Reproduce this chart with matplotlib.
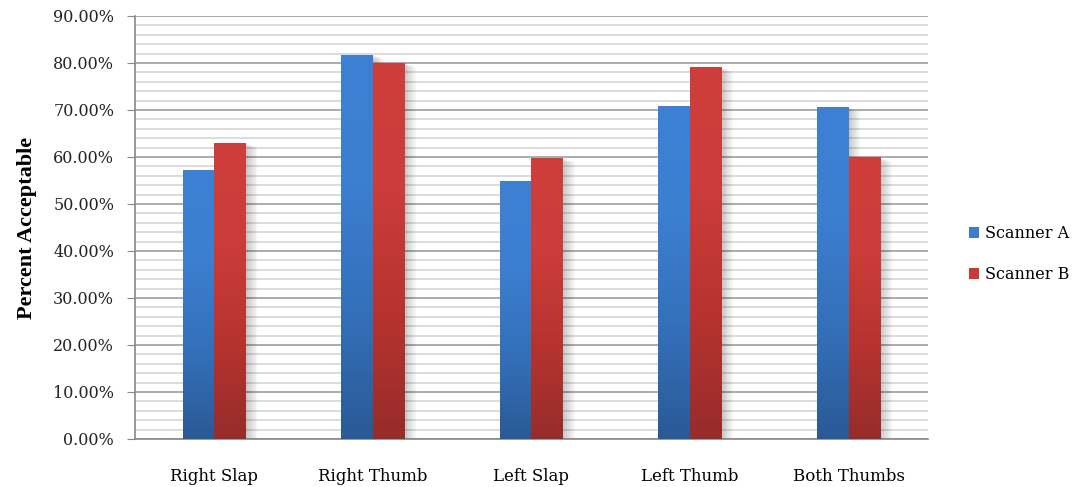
import numpy as np
import matplotlib
matplotlib.use("Agg")
import matplotlib.pyplot as plt
from matplotlib.colors import LinearSegmentedColormap
from matplotlib.patches import Rectangle
from matplotlib.ticker import MultipleLocator, PercentFormatter

categories = ["Right Slap", "Right Thumb", "Left Slap", "Left Thumb", "Both Thumbs"]
scanner_a = [57.3, 81.8, 54.8, 70.9, 70.7]
scanner_b = [63.0, 80.1, 59.8, 79.1, 59.9]
series_names = ["Scanner A", "Scanner B"]

fig = plt.figure(figsize=(10.74, 4.87), dpi=100)
ax = fig.add_axes([0.1257, 0.0986, 0.7383, 0.8686])

x = np.arange(len(categories))
w = 0.2

grads = [
    LinearSegmentedColormap.from_list("a", ["#2A5A96", "#3470BA", "#3C7ED0", "#3E80D3"]),
    LinearSegmentedColormap.from_list("b", ["#962C2A", "#B7332F", "#CB3C3A", "#CF3E3B"]),
]
legend_cols = ["#3D7CCB", "#C83A38"]

grad = np.linspace(0, 1, 256).reshape(-1, 1)
for k, vals in enumerate([scanner_a, scanner_b]):
    for i, v in enumerate(vals):
        x0 = x[i] - w + k * w
        # soft shadow to the right
        for s in range(1, 7):
            off = s * 0.012
            ax.add_patch(Rectangle((x0 + off, 0), w, v - s * 0.15,
                                   color="black", alpha=0.035, lw=0, zorder=2))
        bar = Rectangle((x0, 0), w, v, facecolor="none", lw=0, zorder=3)
        ax.add_patch(bar)
        im = ax.imshow(grad, cmap=grads[k], aspect="auto", origin="lower",
                       extent=(x0, x0 + w, 0, v), zorder=3)
        im.set_clip_path(bar)

for k in range(2):
    ax.bar([0], [0], color=legend_cols[k], label=series_names[k])

ax.set_xlim(-0.5, len(categories) - 0.5)
ax.set_ylim(0, 90)
ax.yaxis.set_major_locator(MultipleLocator(10))
ax.yaxis.set_minor_locator(MultipleLocator(2))
ax.yaxis.set_major_formatter(PercentFormatter(decimals=2))
ax.grid(axis="y", which="minor", color="#D6D6D6", lw=1.2, zorder=0)
ax.grid(axis="y", which="major", color="#A5A5A5", lw=1.3, zorder=0)
ax.set_axisbelow(True)

ax.set_xticks(x)
ax.set_xticklabels(categories, family="DejaVu Serif", fontsize=12)
ax.tick_params(axis="x", length=0, pad=21)
ax.tick_params(axis="y", which="major", length=6, color="#888888", labelsize=11.5, pad=9)
ax.tick_params(axis="y", which="minor", length=0)
for lab in ax.get_yticklabels():
    lab.set_family("DejaVu Serif")
    lab.set_color("#222222")

for s in ["top", "right"]:
    ax.spines[s].set_visible(False)
ax.spines["left"].set_color("#888888")
ax.spines["bottom"].set_color("#888888")
ax.spines["left"].set_linewidth(1.2)
ax.spines["bottom"].set_linewidth(1.2)

ax.set_ylabel("Percent Acceptable", family="Liberation Serif", fontweight="bold",
              fontsize=16, labelpad=12)

fig.legend(loc="center left", bbox_to_anchor=(0.902, 0.478), frameon=False,
           borderaxespad=0, borderpad=0,
           prop={"family": "DejaVu Serif", "size": 11.5}, handlelength=0.65,
           handleheight=0.65, handletextpad=0.35, labelspacing=1.5)

fig.savefig("out.png", dpi=100)
